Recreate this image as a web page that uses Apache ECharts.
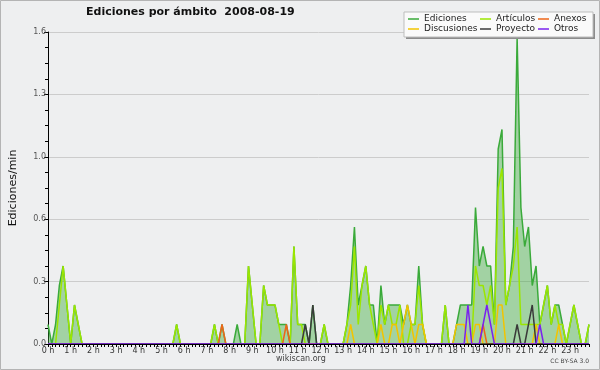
<!DOCTYPE html>
<html lang="es">
<head>
<meta charset="UTF-8">
<title>Ediciones por ámbito 2008-08-19</title>
<style>
  * { margin: 0; padding: 0; }
  body { background: #eeeff0; }
  #main { width: 600px; height: 370px; }
</style>
<script src="https://cdn.jsdelivr.net/npm/echarts@6/dist/echarts.min.js"></script>
</head>
<body>
<div id="main"></div>
<script>
// 10-minute bins, one row per hour
var hourLabels = ['0 h','1 h','2 h','3 h','4 h','5 h','6 h','7 h','8 h','9 h','10 h','11 h',
                  '12 h','13 h','14 h','15 h','16 h','17 h','18 h','19 h','20 h','21 h','22 h','23 h'];
var yTicks = [0, 0.32, 0.64, 0.96, 1.28, 1.6];

var ediciones = [
  0.1,0,0.1,0.3,0.4,0.2,   0,0.2,0.1,0,0,0,       0,0,0,0,0,0,           0,0,0,0,0,0,
  0,0,0,0,0,0,             0,0,0,0,0.1,0,         0,0,0,0,0,0,           0,0,0.1,0,0.1,0,
  0,0,0.1,0,0,0.4,         0.2,0,0,0.3,0.2,0.2,   0.2,0.1,0.1,0.1,0,0.5, 0.1,0.1,0.1,0,0.2,0,
  0,0.1,0,0,0,0,           0,0.1,0.3,0.6,0.2,0.3, 0.4,0.2,0.2,0,0.3,0.1, 0.2,0.2,0.2,0.2,0.1,0.2,
  0.1,0.1,0.4,0.1,0,0,     0,0,0,0.2,0,0,         0.1,0.2,0.2,0.2,0.2,0.7, 0.4,0.5,0.4,0.4,0.1,1.0,
  1.1,0.2,0.3,0.5,1.57,0.7, 0.5,0.6,0.3,0.4,0.1,0.2, 0.3,0.1,0.2,0.2,0.1,0, 0.1,0.2,0.1,0,0,0.1
];
var articulos = [
  0,0,0,0.2,0.4,0.2,       0,0.2,0.1,0,0,0,       0,0,0,0,0,0,           0,0,0,0,0,0,
  0,0,0,0,0,0,             0,0,0,0,0.1,0,         0,0,0,0,0,0,           0,0,0.1,0,0,0,
  0,0,0,0,0,0.4,           0.2,0,0,0.3,0.2,0.2,   0.2,0.1,0,0,0,0.5,     0.1,0.1,0,0,0,0,
  0,0.1,0,0,0,0,           0,0.1,0.2,0.5,0.1,0.3, 0.4,0.2,0.1,0,0.2,0.1, 0.2,0.1,0.1,0.2,0,0,
  0.1,0.1,0.3,0.1,0,0,     0,0,0,0.2,0,0,         0,0,0,0,0,0.4,         0.3,0.3,0.2,0.3,0.1,0.8,
  0.9,0.2,0.3,0.4,0.6,0.1, 0.1,0.1,0.1,0.1,0.1,0.2, 0.3,0.1,0.2,0.1,0.1,0, 0.1,0.2,0.1,0,0,0.1
];
var discusiones = [
  0,0,0,0,0,0, 0,0,0,0,0,0, 0,0,0,0,0,0, 0,0,0,0,0,0,
  0,0,0,0,0,0, 0,0,0,0,0,0, 0,0,0,0,0,0, 0,0,0,0,0,0,
  0,0,0,0,0,0, 0,0,0,0,0,0, 0,0,0,0,0,0, 0,0,0,0,0,0,
  0,0,0,0,0,0, 0,0,0.1,0,0,0, 0,0,0,0,0.1,0, 0,0.1,0.1,0,0.1,0.2,
  0.1,0,0.1,0.1,0,0, 0,0,0,0,0,0, 0.1,0.1,0.1,0,0,0.1, 0.1,0,0,0,0,0.2,
  0.2,0,0,0,0,0, 0,0,0,0.1,0,0, 0,0,0,0.1,0,0, 0,0,0,0,0,0
];
var anexos = [
  0,0,0,0,0,0, 0,0,0,0,0,0, 0,0,0,0,0,0, 0,0,0,0,0,0,
  0,0,0,0,0,0, 0,0,0,0,0,0, 0,0,0,0,0,0, 0,0,0,0,0.1,0,
  0,0,0,0,0,0, 0,0,0,0,0,0, 0,0,0,0.1,0,0, 0,0,0,0,0,0,
  0,0,0,0,0,0, 0,0,0,0,0,0, 0,0,0,0,0,0, 0,0,0,0,0,0,
  0,0,0,0,0,0, 0,0,0,0,0,0, 0,0,0,0,0,0, 0,0.1,0,0,0,0,
  0,0,0,0,0,0, 0,0,0,0,0,0, 0,0,0,0,0,0, 0,0,0,0,0,0
];
var proyecto = [
  0,0,0,0,0,0, 0,0,0,0,0,0, 0,0,0,0,0,0, 0,0,0,0,0,0,
  0,0,0,0,0,0, 0,0,0,0,0,0, 0,0,0,0,0,0, 0,0,0,0,0,0,
  0,0,0,0,0,0, 0,0,0,0,0,0, 0,0,0,0,0,0, 0,0,0.1,0,0.2,0,
  0,0,0,0,0,0, 0,0,0,0,0,0, 0,0,0,0,0,0, 0,0,0,0,0,0,
  0,0,0,0,0,0, 0,0,0,0,0,0, 0,0,0,0,0,0, 0,0,0,0,0,0,
  0,0,0,0,0.1,0, 0,0.1,0.2,0,0,0, 0,0,0,0,0,0, 0,0,0,0,0,0
];
var otros = [
  0,0,0,0,0,0, 0,0,0,0,0,0, 0,0,0,0,0,0, 0,0,0,0,0,0,
  0,0,0,0,0,0, 0,0,0,0,0,0, 0,0,0,0,0,0, 0,0,0,0,0,0,
  0,0,0,0,0,0, 0,0,0,0,0,0, 0,0,0,0,0,0, 0,0,0,0,0,0,
  0,0,0,0,0,0, 0,0,0,0,0,0, 0,0,0,0,0,0, 0,0,0,0,0,0,
  0,0,0,0,0,0, 0,0,0,0,0,0, 0,0,0,0.2,0,0, 0,0.1,0.2,0.1,0,0,
  0,0,0,0,0,0, 0,0,0,0,0.1,0, 0,0,0,0,0,0, 0,0,0,0,0,0
];

var categories = [];
for (var i = 0; i < ediciones.length; i++) {
    categories.push(i % 6 === 0 ? hourLabels[i / 6] : '');
}

var FONT = 'DejaVu Sans';

function lineSeries(name, data, color, extra) {
    var s = {
        name: name,
        type: 'line',
        data: data,
        showSymbol: false,
        symbol: 'none',
        lineStyle: { color: color, width: 1.5 },
        itemStyle: { color: color },
        z: 3
    };
    for (var k in extra) s[k] = extra[k];
    return s;
}

function legendCol(left, names) {
    return {
        data: names,
        orient: 'vertical',
        left: left,
        top: 14,
        padding: 0,
        itemGap: 0,
        itemWidth: 11,
        itemHeight: 1.5,
        icon: 'rect',
        selectedMode: false,
        z: 6,
        textStyle: { fontFamily: FONT, fontSize: 9, color: '#222', lineHeight: 10 }
    };
}

var option = {
    animation: false,
    backgroundColor: '#eeeff0',
    title: {
        text: 'Ediciones por ámbito  2008-08-19',
        left: 86,
        top: 7,
        padding: 0,
        textStyle: { fontFamily: FONT, fontSize: 11, fontWeight: 'bold', color: '#111' }
    },
    grid: { left: 46, right: 11, top: 32, bottom: 26, containLabel: false },
    legend: [
        legendCol(408, ['Ediciones', 'Discusiones']),
        legendCol(480, ['Artículos', 'Proyecto']),
        legendCol(538, ['Anexos', 'Otros'])
    ],
    xAxis: {
        type: 'category',
        data: categories,
        boundaryGap: false,
        z: 10,
        axisLine: { lineStyle: { color: '#000', width: 1 } },
        axisTick: { interval: 0, length: 3, lineStyle: { color: '#000' } },
        axisLabel: { interval: 5, fontFamily: FONT, fontSize: 8, color: '#333', margin: 3 },
        splitLine: { show: false }
    },
    yAxis: {
        type: 'value',
        min: yTicks[0],
        max: yTicks[yTicks.length - 1],
        interval: yTicks[1] - yTicks[0],
        name: 'Ediciones/min',
        nameLocation: 'middle',
        nameRotate: 90,
        nameGap: 29,
        nameTextStyle: { fontFamily: FONT, fontSize: 11, color: '#111' },
        axisLine: { show: true, lineStyle: { color: '#000', width: 1 } },
        axisTick: { show: true, length: 4, lineStyle: { color: '#000' } },
        minorTick: { show: true, splitNumber: 4, length: 3, lineStyle: { color: '#000' } },
        axisLabel: {
            fontFamily: FONT, fontSize: 8, color: '#555', margin: 2,
            formatter: function (v) { return v.toFixed(1); }
        },
        splitLine: { show: true, lineStyle: { color: '#cccccc', width: 1 } }
    },
    graphic: [
        { type: 'rect', shape: { x: 0.5, y: 0.5, width: 599, height: 369 },
          style: { fill: 'none', stroke: '#b4b4b4', lineWidth: 1 }, z: 1 },
        { type: 'rect', shape: { x: 406, y: 14, width: 189, height: 25 },
          style: { fill: '#8c8c8c' }, z: 5 },
        { type: 'rect', shape: { x: 404, y: 12, width: 189, height: 25 },
          style: { fill: '#fafafa', stroke: '#bdbdbd', lineWidth: 1 }, z: 5 },
        { type: 'text', left: 276, top: 355, z: 5,
          style: { text: 'wikiscan.org', font: '8px "DejaVu Sans"', fill: '#444' } },
        { type: 'text', right: 11, top: 358, z: 5,
          style: { text: 'CC BY-SA 3.0', font: '6px "DejaVu Sans"', fill: '#444' } }
    ],
    series: [
        lineSeries('Ediciones', ediciones, '#3aaa3a', {
            areaStyle: { color: '#3aaa3a', opacity: 0.42 }, z: 2
        }),
        lineSeries('Artículos', articulos, '#9be600'),
        lineSeries('Discusiones', discusiones, '#f2c400'),
        lineSeries('Anexos', anexos, '#ee6618'),
        lineSeries('Proyecto', proyecto, '#3a3a3a'),
        lineSeries('Otros', otros, '#7a22ee')
    ]
};

var myChart = echarts.init(document.getElementById('main'));
myChart.setOption(option);
</script>
</body>
</html>
